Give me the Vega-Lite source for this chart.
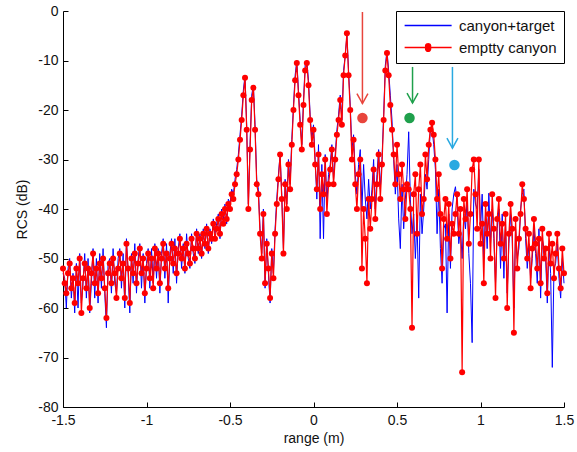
{
"$schema": "https://vega.github.io/schema/vega-lite/v6.json",
"width": 501, "height": 396,
"autosize": "none",
"padding": {"left": 63, "top": 11, "right": 13, "bottom": 45},
"background": "white",
"config": {
 "view": {"stroke": null},
 "font": "Liberation Sans",
 "axis": {"grid": false, "domainColor": "#000", "tickColor": "#000", "labelColor": "#111", "titleColor": "#111", "labelFontSize": 14, "titleFontSize": 14, "titleFontWeight": "normal", "tickSize": -5, "labelFlush": false, "labelOverlap": false, "labelExpr": "toString(datum.value)", "domainWidth": 1, "tickWidth": 1},
 "axisX": {"tickCount": 6, "labelPadding": 11, "titlePadding": 4},
 "axisY": {"tickCount": 8, "labelPadding": 10, "titlePadding": 8}
},
"datasets": {
"rcs": [
{"x":-1.50,"r":-52,"b":-53},{"x":-1.49,"r":-55,"b":-54},{"x":-1.48,"r":-57,"b":-60},{"x":-1.47,"r":-53,"b":-52},{"x":-1.46,"r":-51,"b":-50},
{"x":-1.45,"r":-56,"b":-58},{"x":-1.44,"r":-54,"b":-53},{"x":-1.43,"r":-59,"b":-61},{"x":-1.42,"r":-52,"b":-51},{"x":-1.41,"r":-55,"b":-60},
{"x":-1.40,"r":-50,"b":-49},{"x":-1.39,"r":-61,"b":-59},{"x":-1.38,"r":-54,"b":-55},{"x":-1.37,"r":-51,"b":-49},{"x":-1.36,"r":-56,"b":-58},
{"x":-1.35,"r":-52,"b":-50},{"x":-1.34,"r":-60,"b":-61},{"x":-1.33,"r":-53,"b":-55},{"x":-1.32,"r":-49,"b":-48},{"x":-1.31,"r":-55,"b":-58},
{"x":-1.30,"r":-52,"b":-50},{"x":-1.29,"r":-57,"b":-59},{"x":-1.28,"r":-51,"b":-49},{"x":-1.27,"r":-54,"b":-56},{"x":-1.26,"r":-50,"b":-48},
{"x":-1.25,"r":-56,"b":-57},{"x":-1.24,"r":-62,"b":-64},{"x":-1.23,"r":-53,"b":-51},{"x":-1.22,"r":-51,"b":-50},{"x":-1.21,"r":-55,"b":-57},
{"x":-1.20,"r":-50,"b":-48},{"x":-1.19,"r":-53,"b":-55},{"x":-1.18,"r":-58,"b":-57},{"x":-1.17,"r":-52,"b":-50},{"x":-1.16,"r":-49,"b":-48},
{"x":-1.15,"r":-54,"b":-56},{"x":-1.14,"r":-51,"b":-49},{"x":-1.13,"r":-58,"b":-60},{"x":-1.12,"r":-47,"b":-46},{"x":-1.11,"r":-52,"b":-53},
{"x":-1.10,"r":-59,"b":-61},{"x":-1.09,"r":-50,"b":-49},{"x":-1.08,"r":-53,"b":-55},{"x":-1.07,"r":-49,"b":-47},{"x":-1.06,"r":-55,"b":-57},
{"x":-1.05,"r":-51,"b":-50},{"x":-1.04,"r":-48,"b":-47},{"x":-1.03,"r":-53,"b":-56},{"x":-1.02,"r":-50,"b":-49},{"x":-1.01,"r":-57,"b":-59},
{"x":-1.00,"r":-52,"b":-51},{"x":-0.99,"r":-49,"b":-48},{"x":-0.98,"r":-54,"b":-56},{"x":-0.97,"r":-50,"b":-48},{"x":-0.96,"r":-56,"b":-55},
{"x":-0.95,"r":-48,"b":-47},{"x":-0.94,"r":-52,"b":-54},{"x":-0.93,"r":-49,"b":-48},{"x":-0.92,"r":-55,"b":-57},{"x":-0.91,"r":-50,"b":-49},
{"x":-0.90,"r":-47,"b":-46},{"x":-0.89,"r":-52,"b":-54},{"x":-0.88,"r":-49,"b":-47},{"x":-0.87,"r":-56,"b":-59},{"x":-0.86,"r":-50,"b":-49},
{"x":-0.85,"r":-47,"b":-46},{"x":-0.84,"r":-51,"b":-53},{"x":-0.83,"r":-48,"b":-46},{"x":-0.82,"r":-53,"b":-55},{"x":-0.81,"r":-49,"b":-48},
{"x":-0.80,"r":-46,"b":-45},{"x":-0.79,"r":-50,"b":-52},{"x":-0.78,"r":-48,"b":-47},{"x":-0.77,"r":-52,"b":-53},{"x":-0.76,"r":-47,"b":-45},
{"x":-0.75,"r":-49,"b":-50},{"x":-0.74,"r":-51,"b":-52},{"x":-0.73,"r":-46,"b":-45},{"x":-0.72,"r":-48,"b":-49},{"x":-0.71,"r":-50,"b":-51},
{"x":-0.70,"r":-45,"b":-44},{"x":-0.69,"r":-48,"b":-49},{"x":-0.68,"r":-46,"b":-45},{"x":-0.67,"r":-49,"b":-50},{"x":-0.66,"r":-45,"b":-44},
{"x":-0.65,"r":-47,"b":-48},{"x":-0.64,"r":-44,"b":-43},{"x":-0.63,"r":-48,"b":-49},{"x":-0.62,"r":-45,"b":-44},{"x":-0.61,"r":-46,"b":-47},
{"x":-0.60,"r":-43,"b":-42},{"x":-0.59,"r":-46,"b":-45},{"x":-0.58,"r":-44,"b":-43},{"x":-0.57,"r":-42,"b":-41},{"x":-0.56,"r":-45,"b":-46},
{"x":-0.55,"r":-41,"b":-40},{"x":-0.54,"r":-43,"b":-42},{"x":-0.53,"r":-40,"b":-39},{"x":-0.52,"r":-42,"b":-43},{"x":-0.51,"r":-39,"b":-38},
{"x":-0.50,"r":-40,"b":-39},{"x":-0.49,"r":-37,"b":-36},{"x":-0.48,"r":-38,"b":-37},{"x":-0.47,"r":-35,"b":-34},{"x":-0.46,"r":-33,"b":-32},
{"x":-0.45,"r":-30,"b":-29},{"x":-0.44,"r":-26,"b":-25},{"x":-0.43,"r":-22,"b":-21},{"x":-0.42,"r":-17,"b":-16},{"x":-0.41,"r":-13.5,"b":-13},
{"x":-0.40,"r":-24,"b":-23},{"x":-0.39,"r":-40,"b":-39},{"x":-0.38,"r":-28,"b":-27},{"x":-0.37,"r":-18,"b":-17},{"x":-0.36,"r":-15.5,"b":-15},
{"x":-0.35,"r":-24,"b":-23},{"x":-0.34,"r":-35,"b":-34},{"x":-0.33,"r":-37,"b":-36},{"x":-0.32,"r":-45,"b":-44},{"x":-0.31,"r":-50,"b":-49},
{"x":-0.30,"r":-41,"b":-40},{"x":-0.29,"r":-55,"b":-56},{"x":-0.28,"r":-47,"b":-46},{"x":-0.27,"r":-52,"b":-53},{"x":-0.26,"r":-58,"b":-59},
{"x":-0.25,"r":-49,"b":-48},{"x":-0.24,"r":-54,"b":-53},{"x":-0.23,"r":-45,"b":-44},{"x":-0.22,"r":-39,"b":-38},{"x":-0.21,"r":-34,"b":-33},
{"x":-0.20,"r":-29,"b":-29},{"x":-0.19,"r":-38,"b":-37},{"x":-0.18,"r":-49,"b":-48},{"x":-0.17,"r":-35,"b":-34},{"x":-0.16,"r":-40,"b":-39},
{"x":-0.15,"r":-31,"b":-30},{"x":-0.14,"r":-36,"b":-35},{"x":-0.13,"r":-27,"b":-26},{"x":-0.12,"r":-20,"b":-19},{"x":-0.11,"r":-14,"b":-13},
{"x":-0.10,"r":-10.5,"b":-10},{"x":-0.09,"r":-17,"b":-16},{"x":-0.08,"r":-23,"b":-22},{"x":-0.07,"r":-28,"b":-27},{"x":-0.06,"r":-19,"b":-18},
{"x":-0.05,"r":-12,"b":-11},{"x":-0.04,"r":-10.5,"b":-10},{"x":-0.03,"r":-15,"b":-14},{"x":-0.02,"r":-22,"b":-21},{"x":-0.01,"r":-27,"b":-26},
{"x":0.00,"r":-24,"b":-23},{"x":0.01,"r":-31,"b":-30},{"x":0.02,"r":-36,"b":-38},{"x":0.03,"r":-29,"b":-27},{"x":0.04,"r":-40,"b":-46},
{"x":0.05,"r":-33,"b":-31},{"x":0.06,"r":-37,"b":-46},{"x":0.07,"r":-30,"b":-29},{"x":0.08,"r":-41,"b":-39},{"x":0.09,"r":-35,"b":-33},
{"x":0.10,"r":-32,"b":-31},{"x":0.11,"r":-28,"b":-27},{"x":0.12,"r":-35,"b":-34},{"x":0.13,"r":-30,"b":-29},{"x":0.14,"r":-25,"b":-24},
{"x":0.15,"r":-22,"b":-21},{"x":0.16,"r":-18,"b":-17},{"x":0.17,"r":-23,"b":-22},{"x":0.18,"r":-13,"b":-12},{"x":0.19,"r":-9,"b":-9},
{"x":0.20,"r":-4.5,"b":-5},{"x":0.21,"r":-13,"b":-12},{"x":0.22,"r":-20,"b":-19},{"x":0.23,"r":-30,"b":-28},{"x":0.24,"r":-26,"b":-25},
{"x":0.25,"r":-35,"b":-33},{"x":0.26,"r":-40,"b":-37},{"x":0.27,"r":-33,"b":-31},{"x":0.28,"r":-30,"b":-28},{"x":0.29,"r":-52,"b":-40},
{"x":0.30,"r":-40,"b":-31},{"x":0.31,"r":-46,"b":-38},{"x":0.32,"r":-55,"b":-42},{"x":0.33,"r":-38,"b":-34},{"x":0.34,"r":-44,"b":-40},
{"x":0.35,"r":-38,"b":-36},{"x":0.36,"r":-32,"b":-30},{"x":0.37,"r":-42,"b":-40},{"x":0.38,"r":-35,"b":-33},{"x":0.39,"r":-29,"b":-28},
{"x":0.40,"r":-38,"b":-36},{"x":0.41,"r":-31,"b":-30},{"x":0.42,"r":-22,"b":-21},{"x":0.43,"r":-12,"b":-11},{"x":0.44,"r":-8.5,"b":-8},
{"x":0.45,"r":-13,"b":-12},{"x":0.46,"r":-19,"b":-17},{"x":0.47,"r":-24,"b":-22},{"x":0.48,"r":-29,"b":-30},{"x":0.49,"r":-35,"b":-37},
{"x":0.50,"r":-27,"b":-31},{"x":0.51,"r":-33,"b":-42},{"x":0.52,"r":-38,"b":-48},{"x":0.53,"r":-31,"b":-35},{"x":0.54,"r":-36,"b":-44},
{"x":0.55,"r":-42,"b":-38},{"x":0.56,"r":-35,"b":-33},{"x":0.57,"r":-36,"b":-24.4},{"x":0.58,"r":-40,"b":-38},{"x":0.59,"r":-64,"b":-45},
{"x":0.60,"r":-37,"b":-41},{"x":0.61,"r":-33,"b":-50},{"x":0.62,"r":-45,"b":-42},{"x":0.63,"r":-36,"b":-58},{"x":0.64,"r":-31,"b":-37},
{"x":0.65,"r":-41,"b":-45},{"x":0.66,"r":-38,"b":-40},{"x":0.67,"r":-29,"b":-33},{"x":0.68,"r":-34,"b":-36},{"x":0.69,"r":-27,"b":-30},
{"x":0.70,"r":-24,"b":-23.6},{"x":0.71,"r":-22.6,"b":-24},{"x":0.72,"r":-25,"b":-27},{"x":0.73,"r":-30,"b":-32},{"x":0.74,"r":-38,"b":-45},
{"x":0.75,"r":-33,"b":-36},{"x":0.76,"r":-41,"b":-48},{"x":0.77,"r":-52,"b":-55},{"x":0.78,"r":-42,"b":-44},{"x":0.79,"r":-38,"b":-43},
{"x":0.80,"r":-46,"b":-61},{"x":0.81,"r":-39,"b":-41},{"x":0.82,"r":-50,"b":-52},{"x":0.83,"r":-43,"b":-40},{"x":0.84,"r":-45,"b":-37},
{"x":0.85,"r":-41,"b":-35.5},{"x":0.86,"r":-37,"b":-39},{"x":0.87,"r":-45,"b":-47},{"x":0.88,"r":-40,"b":-44},{"x":0.89,"r":-73,"b":-50},
{"x":0.90,"r":-38,"b":-41},{"x":0.91,"r":-42,"b":-44},{"x":0.92,"r":-36,"b":-38},{"x":0.93,"r":-47,"b":-49},{"x":0.94,"r":-41,"b":-55},
{"x":0.95,"r":-32,"b":-67},{"x":0.96,"r":-30,"b":-36},{"x":0.97,"r":-37,"b":-39},{"x":0.98,"r":-44,"b":-40},{"x":0.99,"r":-30,"b":-32},
{"x":1.00,"r":-47,"b":-44},{"x":1.01,"r":-43,"b":-37},{"x":1.02,"r":-55,"b":-50},{"x":1.03,"r":-39,"b":-41},{"x":1.04,"r":-45,"b":-48},
{"x":1.05,"r":-41,"b":-36.8},{"x":1.06,"r":-50,"b":-47},{"x":1.07,"r":-37,"b":-40},{"x":1.08,"r":-44,"b":-46},{"x":1.09,"r":-58,"b":-55},
{"x":1.10,"r":-42,"b":-44},{"x":1.11,"r":-38,"b":-40},{"x":1.12,"r":-47,"b":-52},{"x":1.13,"r":-43,"b":-41},{"x":1.14,"r":-50,"b":-54},
{"x":1.15,"r":-41,"b":-43},{"x":1.16,"r":-60,"b":-57},{"x":1.17,"r":-45,"b":-47},{"x":1.18,"r":-39,"b":-41},{"x":1.19,"r":-44,"b":-46},
{"x":1.20,"r":-65,"b":-60},{"x":1.21,"r":-42,"b":-44},{"x":1.22,"r":-52,"b":-50},{"x":1.23,"r":-46,"b":-48},{"x":1.24,"r":-41,"b":-40},
{"x":1.25,"r":-35,"b":-37},{"x":1.26,"r":-38,"b":-36},{"x":1.27,"r":-44,"b":-46},{"x":1.28,"r":-50,"b":-52},{"x":1.29,"r":-45,"b":-47},
{"x":1.30,"r":-56,"b":-54},{"x":1.31,"r":-48,"b":-50},{"x":1.32,"r":-42,"b":-44},{"x":1.33,"r":-47,"b":-49},{"x":1.34,"r":-52,"b":-55},
{"x":1.35,"r":-46,"b":-44},{"x":1.36,"r":-55,"b":-58},{"x":1.37,"r":-44,"b":-46},{"x":1.38,"r":-50,"b":-48},{"x":1.39,"r":-48,"b":-50},
{"x":1.40,"r":-57,"b":-59},{"x":1.41,"r":-45,"b":-47},{"x":1.42,"r":-51,"b":-53},{"x":1.43,"r":-47,"b":-72},{"x":1.44,"r":-54,"b":-52},
{"x":1.45,"r":-49,"b":-51},{"x":1.46,"r":-45,"b":-47},{"x":1.47,"r":-52,"b":-54},{"x":1.48,"r":-56,"b":-58},{"x":1.49,"r":-48,"b":-50},
{"x":1.50,"r":-53,"b":-55}
],
"arrows": [
{"k":"a","x":0.293,"top":-0.2,"tip":-18.7,"dx":0.293,"dy":-21.6},
{"k":"b","x":0.593,"top":-11.3,"tip":-18.6,"dx":0.575,"dy":-21.6},
{"k":"c","x":0.832,"top":-11.3,"tip":-27.7,"dx":0.844,"dy":-31.1}
]
},
"layer": [
{"data": {"name": "rcs"},
 "mark": {"type": "line", "color": "#0000ff", "strokeWidth": 1},
 "encoding": {
  "x": {"field": "x", "type": "quantitative", "title": "range (m)", "scale": {"domain": [-1.5, 1.5], "nice": false, "zero": false}},
  "y": {"field": "b", "type": "quantitative", "title": "RCS (dB)", "scale": {"domain": [-80, 0], "nice": false}}
 }},
{"data": {"name": "rcs"},
 "mark": {"type": "line", "color": "#ff0000", "strokeWidth": 1.2},
 "encoding": {
  "x": {"field": "x", "type": "quantitative", "title": "range (m)"},
  "y": {"field": "r", "type": "quantitative", "title": "RCS (dB)"}
 }},
{"data": {"name": "rcs"},
 "mark": {"type": "point", "filled": true, "color": "#ff0000", "opacity": 1, "size": 36, "shape": "circle"},
 "encoding": {
  "x": {"field": "x", "type": "quantitative", "title": "range (m)"},
  "y": {"field": "r", "type": "quantitative", "title": "RCS (dB)"}
 }},
{"data": {"name": "arrows"},
 "mark": {"type": "rule", "strokeWidth": 1.5},
 "encoding": {
  "x": {"field": "x", "type": "quantitative", "title": "range (m)"},
  "y": {"field": "top", "type": "quantitative", "title": "RCS (dB)"},
  "y2": {"field": "tip"},
  "stroke": {"field": "k", "type": "nominal", "scale": {"domain": ["a","b","c"], "range": ["#e8453c","#1fa04c","#29a9e1"]}, "legend": null}
 }},
{"data": {"name": "arrows"},
 "mark": {"type": "point", "filled": false, "strokeWidth": 1.5, "size": 121, "opacity": 1, "shape": "M-1,-1.8L0,0L1,-1.8"},
 "encoding": {
  "x": {"field": "x", "type": "quantitative", "title": "range (m)"},
  "y": {"field": "tip", "type": "quantitative", "title": "RCS (dB)"},
  "stroke": {"field": "k", "type": "nominal", "scale": {"domain": ["a","b","c"], "range": ["#e8453c","#1fa04c","#29a9e1"]}, "legend": null}
 }},
{"data": {"name": "arrows"},
 "mark": {"type": "point", "filled": true, "size": 110, "opacity": 1, "shape": "circle"},
 "encoding": {
  "x": {"field": "dx", "type": "quantitative", "title": "range (m)"},
  "y": {"field": "dy", "type": "quantitative", "title": "RCS (dB)"},
  "fill": {"field": "k", "type": "nominal", "scale": {"domain": ["a","b","c"], "range": ["#e8453c","#1fa04c","#29a9e1"]}, "legend": null}
 }},
{"data": {"values": [{"s": "canyon+target"}, {"s": "emptty canyon"}]},
 "transform": [{"filter": "datum.s == 'none'"}],
 "mark": {"type": "point", "filled": true, "opacity": 1},
 "encoding": {
  "color": {"field": "s", "type": "nominal", "scale": {"domain": ["canyon+target", "emptty canyon"], "range": ["#0000ff", "#ff0000"]},
   "legend": {"title": null, "orient": "top-right", "offset": 0, "padding": 7, "fillColor": "white", "strokeColor": "#000", "labelFontSize": 15, "labelColor": "#111", "symbolSize": 138, "labelOffset": 41, "rowPadding": 6, "symbolStrokeWidth": 0, "symbolOpacity": 1}},
  "shape": {"field": "s", "type": "nominal", "scale": {"domain": ["canyon+target", "emptty canyon"], "range": ["M-1,-0.12H7V0.12H-1Z", "M-1,-0.12H7V0.12H-1Z M3.5,0A0.55,0.55 0 1,1 2.5,0A0.55,0.55 0 1,1 3.5,0Z"]},
   "legend": {"title": null, "orient": "top-right", "offset": 0, "padding": 7, "fillColor": "white", "strokeColor": "#000", "labelFontSize": 15, "labelColor": "#111", "symbolSize": 138, "labelOffset": 41, "rowPadding": 6, "symbolStrokeWidth": 0, "symbolOpacity": 1}}
 }}
]
}
